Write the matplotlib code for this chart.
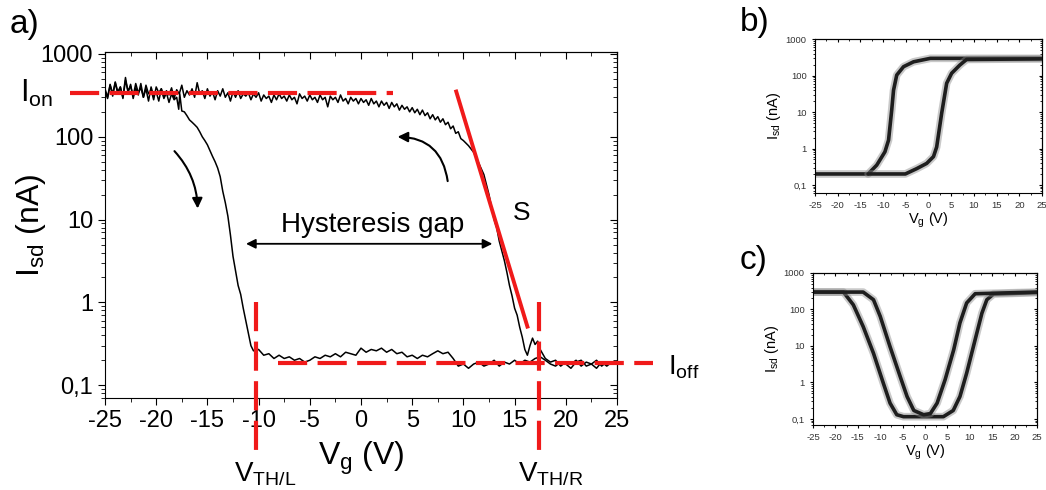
"""Hysteresis transfer curves: main panel a) plus schematic panels b) and c)"""

import matplotlib
matplotlib.use('Agg')
import matplotlib.pyplot as plt
from matplotlib.patches import FancyArrowPatch
from matplotlib.ticker import FixedLocator, MultipleLocator, LogLocator, NullFormatter

plt.rcParams['font.family'] = ['Liberation Sans', 'DejaVu Sans']
plt.rcParams['mathtext.default'] = 'regular'
plt.rcParams['axes.unicode_minus'] = False

# ---- data: panel a), forward sweep (drop on the left) ----
fwd_vg = [-25, -24.75, -24.5, -24.25, -24, -23.75, -23.5, -23.25, -23, -22.75, -22.5, -22.25,
          -22, -21.75, -21.5, -21.25, -21, -20.75, -20.5, -20.25, -20, -19.75, -19.5, -19.25,
          -19, -18.75, -18.5, -18.25, -18, -17.8, -17.7, -17.5, -17.25, -17, -16.75, -16.5, -16.25,
          -16, -15.75, -15.5, -15.25, -15, -14.75, -14.5, -14.25, -14, -13.75, -13.5, -13.25, -13,
          -12.75, -12.5, -12.25, -12, -11.75, -11.5, -11.25, -11, -10.75, -10.5, -10, -9.5, -9,
          -8.5, -8, -7.5, -7, -6.5, -6, -5.5, -5, -4.5, -4, -3.5, -3, -2.5, -2, -1.5, -1, -0.5,
          0, 0.5, 1, 1.5, 2, 2.5, 3, 3.5, 4, 4.5, 5, 5.5, 6, 6.5, 7, 7.5, 8, 8.5, 9, 9.5, 10,
          10.5, 11, 11.5, 12, 12.5, 13, 13.5, 14, 14.5, 15, 15.5, 16, 16.5, 17, 17.5, 18, 18.5,
          19, 19.5, 20, 20.5, 21, 21.5, 22, 22.5, 23, 23.5, 24, 24.5, 25]
fwd_isd = [360, 290, 420, 310, 450, 330, 400, 300, 520, 340, 430, 290,
           390, 320, 440, 300, 380, 270, 400, 310, 350, 270, 380, 290,
           340, 260, 330, 280, 300, 215, 330, 205, 200, 180, 160, 150, 140,
           130, 115, 100, 90, 80, 68, 58, 50, 42, 33, 22, 16, 11,
           6.5, 3.6, 2.4, 1.6, 1.25, 0.85, 0.6, 0.42, 0.3, 0.26, 0.27, 0.23, 0.24,
           0.21, 0.23, 0.21, 0.22, 0.2, 0.21, 0.19, 0.2, 0.22, 0.21, 0.23, 0.22, 0.24, 0.22, 0.25, 0.24, 0.23,
           0.28, 0.25, 0.27, 0.26, 0.28, 0.25, 0.27, 0.24, 0.25, 0.22, 0.23, 0.21, 0.23, 0.22, 0.24, 0.26, 0.24, 0.25, 0.21, 0.17, 0.18,
           0.16, 0.18, 0.19, 0.17, 0.18, 0.2, 0.17, 0.19, 0.18, 0.2, 0.18, 0.2, 0.19, 0.21, 0.22, 0.2, 0.18,
           0.17, 0.19, 0.18, 0.16, 0.19, 0.2, 0.17, 0.18, 0.16, 0.19, 0.17, 0.19, 0.18]

# ---- data: panel a), return sweep (rise on the right) ----
rev_vg = [-25, -24.75, -24.5, -24.25, -24, -23.75, -23.5, -23.25, -23, -22.75, -22.5, -22.25,
          -22, -21.75, -21.5, -21.25, -21, -20.75, -20.5, -20.25, -20, -19.75, -19.5, -19.25,
          -19, -18.75, -18.5, -18.25, -18, -17.75, -17.5, -17.25, -17, -16.75, -16.5, -16.25,
          -16, -15.75, -15.5, -15.25, -15, -14.75, -14.5, -14.25, -14, -13.75, -13.5, -13.25,
          -13, -12.75, -12.5, -12.25, -12, -11.75, -11.5, -11.25, -11, -10.75, -10.5, -10.25,
          -10, -9.75, -9.5, -9.25, -9, -8.75, -8.5, -8.25, -8, -7.75, -7.5, -7.25,
          -7, -6.75, -6.5, -6.25, -6, -5.75, -5.5, -5.25, -5, -4.75, -4.5, -4.25,
          -4, -3.75, -3.5, -3.25, -3, -2.75, -2.5, -2.25, -2, -1.75, -1.5, -1.25,
          -1, -0.75, -0.5, -0.25, 0, 0.25, 0.5, 0.75, 1, 1.25, 1.5, 1.75,
          2, 2.25, 2.5, 2.75, 3, 3.25, 3.5, 3.75, 4, 4.25, 4.5, 4.75,
          5, 5.25, 5.5, 5.75, 6, 6.25, 6.5, 6.75, 7, 7.25, 7.5, 7.75,
          8, 8.25, 8.5, 8.75, 9, 9.25, 9.5, 9.75, 10, 10.5, 11, 11.5, 12, 12.5, 12.75, 13,
          13.25, 13.5, 13.75, 14, 14.25, 14.5, 14.75, 15, 15.25, 15.5, 15.75, 16, 16.25, 16.5,
          16.75, 17, 17.25, 17.5, 18, 18.5, 19, 19.5, 20, 20.5, 21, 21.5, 22, 22.5, 23, 23.5,
          24, 24.5, 25]
rev_isd = [380, 300, 430, 330, 460, 350, 400, 290, 480, 360, 410, 310,
           440, 340, 390, 300, 420, 330, 370, 280, 400, 340, 380, 300,
           360, 320, 390, 290, 370, 330, 420, 300, 360, 320, 380, 300,
           450, 330, 360, 290, 380, 310, 350, 280, 360, 310, 380, 300,
           340, 270, 350, 300, 360, 290, 330, 310, 340, 280, 330, 300,
           340, 270, 320, 290, 310, 260, 320, 280, 330, 290, 310, 270,
           320, 280, 300, 250, 330, 290, 310, 270, 320, 280, 300, 260,
           320, 280, 300, 230, 310, 280, 300, 260, 320, 270, 290, 250,
           300, 270, 290, 250, 290, 260, 280, 240, 290, 250, 270, 230,
           270, 240, 260, 220, 260, 230, 250, 210, 240, 215, 230, 200,
           225, 195, 215, 185, 210, 180, 195, 165, 185, 160, 175, 150,
           165, 140, 150, 125, 135, 110, 115, 95, 90, 78, 65, 48, 35, 20, 14, 10,
           8, 5.5, 4.2, 3.2, 2.3, 1.6, 1.2, 0.85, 0.7, 0.5, 0.38, 0.27, 0.23, 0.3,
           0.37, 0.31, 0.34, 0.27, 0.21, 0.19, 0.2, 0.17, 0.19, 0.18, 0.2, 0.17,
           0.19, 0.18, 0.2, 0.17, 0.19, 0.18, 0.19]

# guide lines in panel a)
i_on, i_off = 337, 0.186
vth_left, vth_right = -10.3, 17.4
slope_vg = [9.3, 16.25]
slope_isd = [352, 0.51]

# ---- data: panel b) ----
b_left_vg = [-25, -13.3, -11.4, -9.6, -8.8, -8.1, -7.7, -7.0, -5.5, -3.3, 0.4, 25]
b_left_isd = [0.2, 0.2, 0.35, 0.81, 1.7, 11.5, 40, 104, 177, 241, 300, 300]
b_right_vg = [-13.3, -5.1, -2.6, -0.4, 1.1, 1.8, 2.9, 4.0, 5.1, 6.9, 8.4, 25]
b_right_isd = [0.2, 0.2, 0.28, 0.39, 0.6, 1.1, 9.3, 62, 117, 196, 280, 290]

# ---- data: panel c) ----
c_outer_vg = [-25, -18.2, -16.0, -13.8, -11.5, -9.3, -7.8, -6.3, -4.8, 4.1, 6.3, 7.8, 9.3, 11.2, 12.7, 13.8, 15.3, 25]
c_outer_isd = [300, 300, 134, 34, 6.3, 0.95, 0.27, 0.13, 0.115, 0.115, 0.17, 0.41, 1.8, 15, 79, 185, 265, 290]
c_inner_vg = [-25, -13.8, -11.5, -10.0, -7.8, -5.5, -4.0, -2.5, -0.3, 1.2, 2.7, 4.5, 6.4, 7.8, 9.3, 11.2, 25]
c_inner_isd = [300, 300, 185, 65, 9.5, 1.4, 0.41, 0.17, 0.13, 0.14, 0.27, 1.2, 7.8, 43, 151, 270, 300]

y_ticks = [0.1, 1, 10, 100, 1000]
y_tick_labels = ['0,1', '1', '10', '100', '1000']

RED = '#f01a1a'
W, H = 1046, 490


def style_log_axes(ax, fs, major_len, minor_len, ymin, ymax):
    """Origin-like axes: ticks out on bottom/left, in on top/right"""
    ax.set_yscale('log')
    ax.set_xlim(-25, 25)
    ax.set_ylim(ymin, ymax)
    ax.yaxis.set_major_locator(FixedLocator(y_ticks))
    ax.set_yticklabels(y_tick_labels)
    ax.yaxis.set_minor_locator(LogLocator(base=10, subs=range(2, 10)))
    ax.yaxis.set_minor_formatter(NullFormatter())
    ax.xaxis.set_major_locator(MultipleLocator(5))
    ax.xaxis.set_minor_locator(MultipleLocator(2.5))
    ax.tick_params(which='both', direction='out', labelsize=fs)
    ax.tick_params(which='major', length=major_len)
    ax.tick_params(which='minor', length=minor_len)
    # mirrored ticks pointing inwards
    sec_x = ax.secondary_xaxis('top')
    sec_x.xaxis.set_major_locator(MultipleLocator(5))
    sec_x.xaxis.set_minor_locator(MultipleLocator(2.5))
    sec_x.tick_params(which='both', direction='in', labeltop=False)
    sec_x.tick_params(which='major', length=major_len)
    sec_x.tick_params(which='minor', length=minor_len)
    sec_y = ax.secondary_yaxis('right')
    sec_y.yaxis.set_major_locator(FixedLocator(y_ticks))
    sec_y.yaxis.set_minor_locator(LogLocator(base=10, subs=range(2, 10)))
    sec_y.yaxis.set_minor_formatter(NullFormatter())
    sec_y.tick_params(which='both', direction='in', labelright=False)
    sec_y.tick_params(which='major', length=major_len)
    sec_y.tick_params(which='minor', length=minor_len)


fig = plt.figure(figsize=(W / 100, H / 100), dpi=100)

# ---------------- panel a) ----------------
ax = fig.add_axes([105 / W, 1 - 398 / H, 512 / W, 346 / H])
style_log_axes(ax, 17, 5, 3, 0.07, 1057)
ax.plot(fwd_vg, fwd_isd, color='black', lw=1.1)
ax.plot(rev_vg, rev_isd, color='black', lw=1.1)

dash = (7, 2.5)
ax.plot([-28.4, 3.1], [i_on, i_on], color=RED, lw=3, dashes=dash, clip_on=False, zorder=5)
ax.plot([-8.1, 28.5], [i_off, i_off], color=RED, lw=3, dashes=dash, clip_on=False, zorder=5)
ax.plot([vth_left, vth_left], [1.0, 0.016], color=RED, lw=3, dashes=dash, clip_on=False, zorder=5)
ax.plot([vth_right, vth_right], [1.0, 0.016], color=RED, lw=3, dashes=dash, clip_on=False, zorder=5)
ax.plot(slope_vg, slope_isd, color=RED, lw=2.8, zorder=5)

ax.text(-33.3, i_on, r'I$_{on}$', fontsize=22, va='center', ha='left', clip_on=False)
ax.text(30.0, 0.165, r'I$_{off}$', fontsize=20, va='center', ha='left', clip_on=False)
ax.text(1.1, 7.1, 'Hysteresis gap', fontsize=20, ha='center', va='baseline')
ax.text(15.7, 10, 'S', fontsize=19, ha='center', va='baseline')
fig.text(265 / W, 1 - 474 / H, r'V$_{TH/L}$', fontsize=20, ha='center', va='center')
fig.text(551 / W, 1 - 474 / H, r'V$_{TH/R}$', fontsize=20, ha='center', va='center')

ax.annotate('', xy=(-11.5, 5.1), xytext=(13.1, 5.1),
            arrowprops=dict(arrowstyle='<|-|>', color='black', lw=1.3, mutation_scale=14))
ax.add_patch(FancyArrowPatch((-18.4, 71), (-15.95, 12.6), connectionstyle='arc3,rad=-0.2',
                             arrowstyle='-|>', mutation_scale=15, color='black', lw=1.5))
ax.add_patch(FancyArrowPatch((8.5, 27), (3.3, 100), connectionstyle='arc3,rad=0.45',
                             arrowstyle='-|>', mutation_scale=15, color='black', lw=1.5))

ax.set_xlabel(r'V$_g$ (V)', fontsize=23, labelpad=6)
ax.set_ylabel(r'I$_{sd}$ (nA)', fontsize=23, labelpad=-5)
fig.text(10 / W, 1 - 24 / H, 'a)', fontsize=24, va='center', ha='left')


# ---------------- panels b) and c) ----------------
def draw_blurry(axs, x, y):
    axs.plot(x, y, color='#888888', lw=5.5, alpha=0.45, solid_capstyle='round', solid_joinstyle='round')
    axs.plot(x, y, color='#1e1e1e', lw=2.6, solid_capstyle='round', solid_joinstyle='round')


axb = fig.add_axes([815 / W, 1 - 193 / H, 227 / W, 154 / H])
style_log_axes(axb, 6.8, 2.5, 1.5, 0.06, 1020)
draw_blurry(axb, b_left_vg, b_left_isd)
draw_blurry(axb, b_right_vg, b_right_isd)
axb.set_xlabel(r'V$_g$ (V)', fontsize=10.5, labelpad=0)
axb.set_ylabel(r'I$_{sd}$ (nA)', fontsize=10.5, labelpad=2)
fig.text(740 / W, 1 - 22 / H, 'b)', fontsize=24, va='center', ha='left')

axc = fig.add_axes([813 / W, 1 - 425 / H, 224 / W, 152 / H])
style_log_axes(axc, 6.8, 2.5, 1.5, 0.068, 1000)
draw_blurry(axc, c_outer_vg, c_outer_isd)
draw_blurry(axc, c_inner_vg, c_inner_isd)
axc.set_xlabel(r'V$_g$ (V)', fontsize=10.5, labelpad=0)
axc.set_ylabel(r'I$_{sd}$ (nA)', fontsize=10.5, labelpad=2)
fig.text(740 / W, 1 - 260 / H, 'c)', fontsize=24, va='center', ha='left')

for a in (axb, axc):
    for lab in a.get_xticklabels() + a.get_yticklabels():
        lab.set_color('#333333')

fig.savefig('out.png', dpi=100)
